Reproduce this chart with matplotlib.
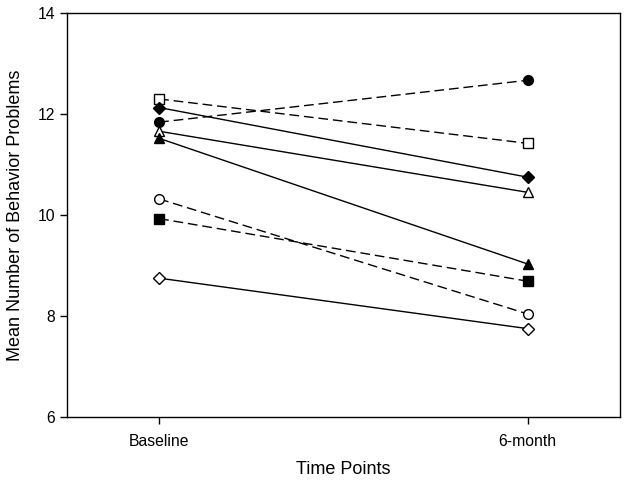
import matplotlib
matplotlib.use("Agg")
import matplotlib.pyplot as plt

plt.rcParams['font.family'] = ['Liberation Sans', 'DejaVu Sans']

time_labels = ["Baseline", "6-month"]
time_x = [1, 2]

# one entry per group: baseline, 6-month
open_square = [12.30, 11.42]
filled_diamond = [12.13, 10.75]
filled_circle = [11.84, 12.67]
open_triangle = [11.66, 10.45]
filled_triangle = [11.52, 9.03]
open_circle = [10.32, 8.04]
filled_square = [9.93, 8.69]
open_diamond = [8.75, 7.75]

series = [
    (open_square, 's', 'white', '--'),
    (filled_diamond, 'D', 'black', '-'),
    (filled_circle, 'o', 'black', '--'),
    (open_triangle, '^', 'white', '-'),
    (filled_triangle, '^', 'black', '-'),
    (open_circle, 'o', 'white', '--'),
    (filled_square, 's', 'black', '--'),
    (open_diamond, 'D', 'white', '-'),
]

fig = plt.figure(figsize=(6.29, 4.86), dpi=100)
ax = fig.add_axes([0.1065, 0.142, 0.879, 0.831])

for values, marker, face, style in series:
    ms = 6.0 if marker == 'D' else 7.0
    line, = ax.plot(time_x, values, color='black', linestyle=style, linewidth=1.0,
                    marker=marker, markersize=ms, markerfacecolor=face,
                    markeredgecolor='black', markeredgewidth=1.0)
    if style == '--':
        line.set_dashes((7, 3.5))

ax.set_xlim(0.75, 2.25)
ax.set_ylim(6, 14)
ax.set_xticks(time_x)
ax.set_xticklabels(time_labels)
ax.set_yticks([6, 8, 10, 12, 14])
ax.tick_params(axis='both', direction='out', length=5, width=1, labelsize=11.3,
               top=False, right=False)
ax.tick_params(axis='x', pad=7)
for sp in ax.spines.values():
    sp.set_linewidth(1.0)

ax.set_xlabel("Time Points", fontsize=13, labelpad=9)
ax.set_ylabel("Mean Number of Behavior Problems", fontsize=13, labelpad=10)

fig.savefig("out.png", dpi=100)
